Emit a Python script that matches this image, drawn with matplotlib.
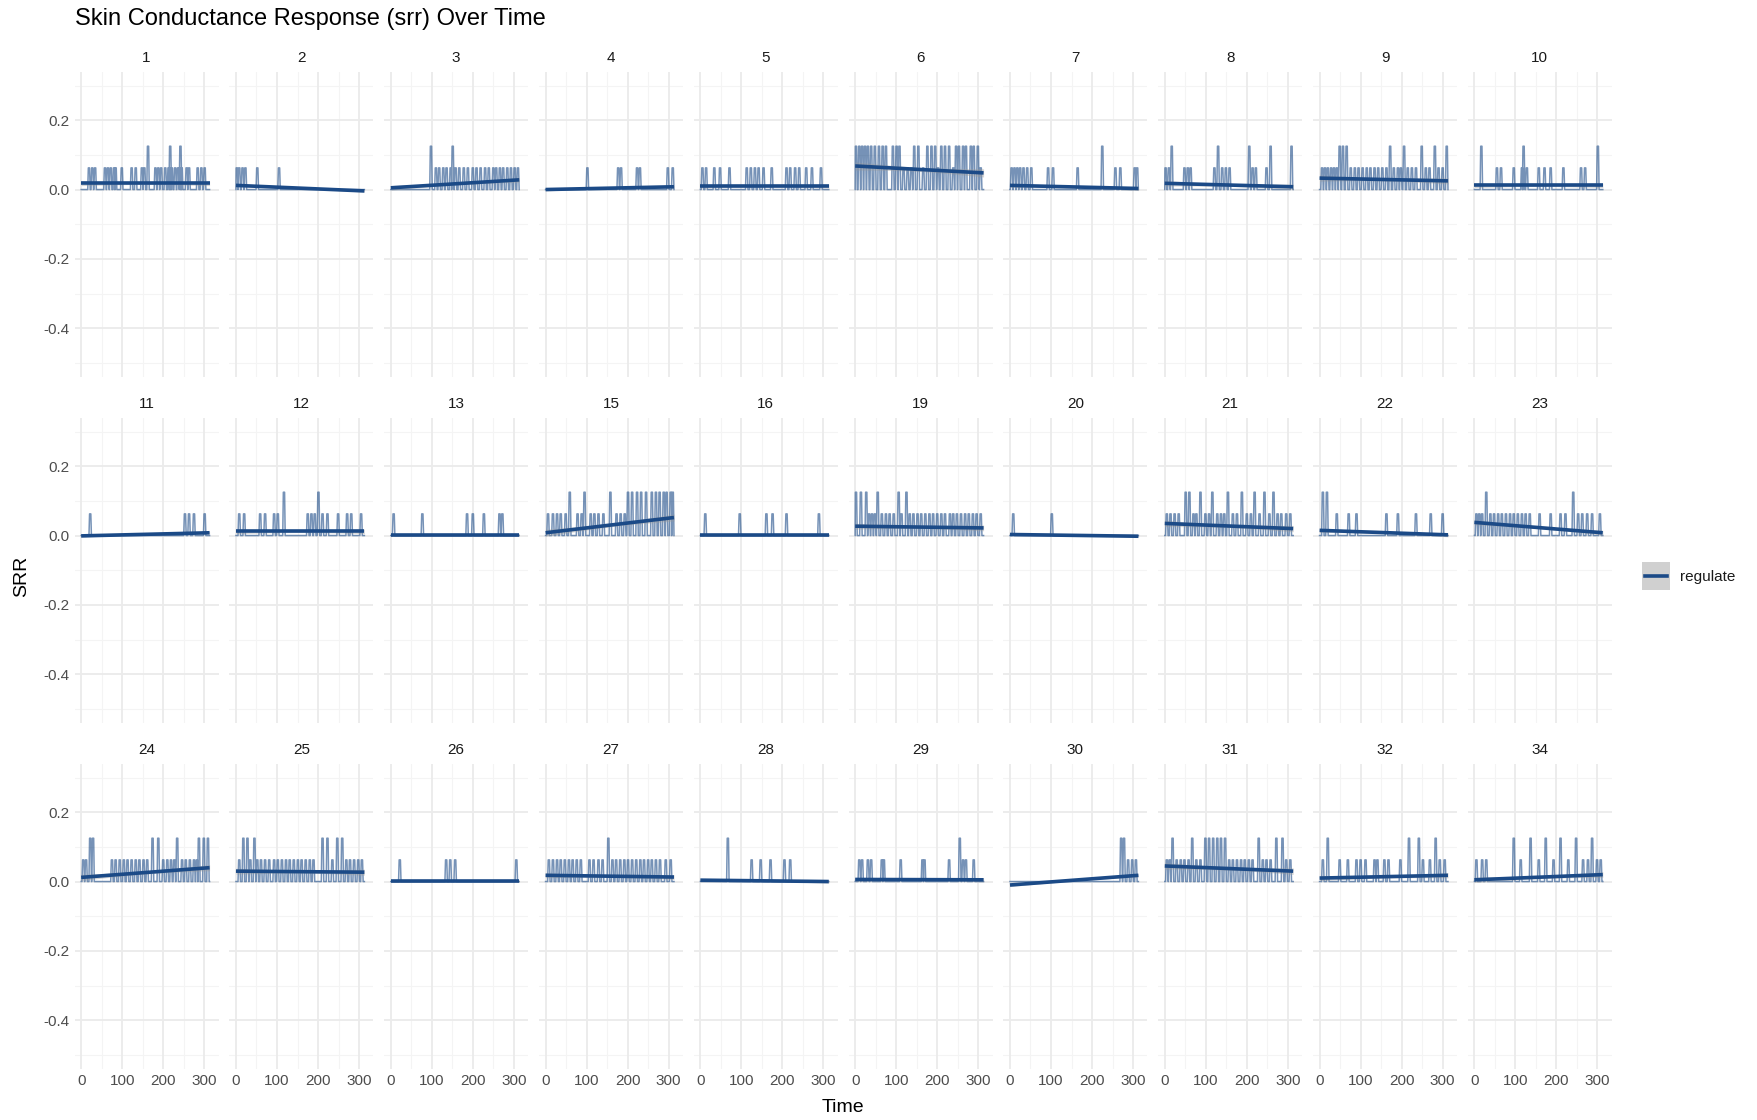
import numpy as np
import matplotlib
matplotlib.use("Agg")
import matplotlib.pyplot as plt
from matplotlib.patches import Rectangle
from matplotlib.lines import Line2D

plt.rcParams['font.family'] = ['Liberation Sans', 'DejaVu Sans']

# subject ids shown in the facets (row-major, 10 per row)
subjects = [1, 2, 3, 4, 5, 6, 7, 8, 9, 10,
            11, 12, 13, 15, 16, 19, 20, 21, 22, 23,
            24, 25, 26, 27, 28, 29, 30, 31, 32, 34]

# times (s) of small (~0.0625) and large (~0.125) srr peaks
spikes_lo = {
    1: [19, 27, 34, 58, 65, 72, 80, 84, 99, 123, 133, 148, 154, 181, 188, 195, 205, 213, 221, 229, 236, 245, 257, 263, 284, 293, 301],
    2: [2, 8, 16, 23, 52, 105],
    3: [110, 118, 128, 136, 146, 158, 167, 178, 188, 200, 209, 219, 230, 239, 250, 257, 266, 274, 284, 293, 302, 310],
    4: [102, 177, 184, 223, 230, 298, 310],
    5: [5, 14, 34, 48, 71, 113, 123, 133, 142, 154, 174, 210, 219, 231, 241, 258, 272, 294],
    6: [118, 128, 137, 166, 202, 239, 306],
    7: [4, 11, 18, 25, 33, 42, 52, 93, 105, 165, 257, 269, 304, 310],
    8: [2, 10, 48, 56, 63, 121, 140, 149, 158, 214, 222, 248],
    9: [6, 13, 20, 28, 35, 42, 76, 86, 95, 105, 115, 124, 134, 143, 153, 163, 181, 191, 198, 215, 225, 235, 259, 268, 290, 300],
    10: [55, 65, 96, 116, 128, 157, 171, 186, 217, 260, 270],
    11: [22, 253, 263, 275, 301],
    12: [8, 20, 59, 71, 93, 102, 175, 184, 192, 211, 223, 249, 271, 281, 305],
    13: [7, 77, 186, 200, 227, 265, 272],
    15: [6, 18, 28, 37, 49, 78, 88, 110, 119, 129, 141, 173, 183, 193],
    16: [12, 96, 161, 176, 210, 289],
    19: [34, 41, 48, 65, 75, 84, 94, 113, 133, 142, 152, 161, 171, 181, 190, 200, 210, 219, 231, 239, 248, 258, 268, 277, 287, 296, 306],
    20: [8, 102],
    21: [5, 14, 24, 34, 70, 77, 99, 108, 128, 137, 145, 166, 176, 200, 210, 231, 255, 275, 284, 296, 306],
    22: [42, 71, 90, 163, 191, 235, 271, 300],
    23: [5, 12, 19, 39, 48, 58, 67, 77, 87, 96, 106, 116, 125, 135, 159, 186, 210, 222, 253, 263, 275, 287, 306],
    24: [5, 12, 75, 84, 94, 104, 113, 123, 133, 142, 152, 161, 200, 210, 219, 227, 246, 255, 265, 275, 282],
    25: [8, 35, 52, 61, 71, 81, 93, 102, 112, 122, 131, 141, 151, 160, 170, 180, 189, 235, 269, 278, 288, 298, 307],
    26: [22, 135, 145, 157, 306],
    27: [8, 18, 28, 37, 47, 57, 66, 76, 86, 107, 117, 129, 139, 163, 172, 182, 192, 201, 211, 221, 231, 240, 250, 259, 269, 279, 293, 305],
    28: [125, 147, 171, 205, 219],
    29: [10, 17, 31, 39, 65, 70, 111, 164, 169, 229, 263, 270, 289],
    30: [288, 298, 307],
    31: [5, 12, 29, 39, 48, 58, 77, 87, 157, 166, 176, 186, 195, 205, 214, 239, 248, 258, 296, 306],
    32: [8, 49, 69, 90, 100, 112, 134, 141, 158, 168, 197, 252, 269, 293, 305],
    34: [5, 19, 29, 113, 157, 193, 229, 265, 277, 299, 308],
}
spikes_hi = {
    1: [163, 217, 242],
    3: [98, 151],
    6: [2, 10, 17, 24, 31, 39, 48, 58, 67, 75, 92, 101, 108, 144, 154, 176, 186, 195, 210, 219, 229, 246, 253, 263, 270, 282, 289, 299],
    7: [225],
    8: [17, 130, 206, 258, 309],
    9: [49, 57, 66, 172, 206, 249, 281, 310],
    10: [17, 120, 301],
    12: [117, 201],
    15: [59, 95, 158, 201, 211, 223, 233, 245, 259, 269, 278, 288, 295, 305, 310],
    19: [2, 14, 27, 55, 106, 125],
    21: [51, 60, 87, 116, 154, 188, 219, 243, 265],
    22: [8, 18],
    23: [29, 241],
    24: [22, 29, 174, 188, 234, 287, 299, 309],
    25: [18, 28, 45, 211, 223, 247, 259],
    27: [153],
    28: [67],
    29: [255],
    30: [271, 278],
    31: [19, 67, 99, 108, 118, 128, 137, 147, 229, 272, 287],
    32: [20, 218, 242, 283],
    34: [96, 137, 174, 210, 248, 287],
}
level_lo = 0.0625
level_hi = 0.125
t_end = 313

# linear trend (value at t=0 and at t_end)
fit_start = [0.018, 0.012, 0.005, 0.000, 0.010, 0.068, 0.012, 0.018, 0.033, 0.012,
             -0.001, 0.012, 0.002, 0.008, 0.002, 0.027, 0.003, 0.035, 0.015, 0.038,
             0.012, 0.030, 0.001, 0.018, 0.004, 0.006, -0.010, 0.045, 0.010, 0.005]
fit_end = [0.018, -0.004, 0.028, 0.008, 0.010, 0.048, 0.003, 0.008, 0.025, 0.012,
           0.008, 0.012, 0.002, 0.052, 0.002, 0.022, -0.002, 0.020, 0.002, 0.008,
           0.040, 0.027, 0.001, 0.013, 0.000, 0.005, 0.018, 0.030, 0.018, 0.020]

x_major = [0, 100, 200, 300]
x_minor = [50, 150, 250]
y_major = [-0.4, -0.2, 0.0, 0.2]
y_minor = [-0.5, -0.3, -0.1, 0.1, 0.3]

raw_color = "#1b4a87"
fit_color = "#1b4a87"
grid_major = "#ebebeb"
grid_minor = "#f4f4f4"
tick_color = "#4d4d4d"


def build_series(lo, hi):
    ev = sorted([(t, level_lo) for t in lo] + [(t, level_hi) for t in hi])
    xs, ys = [0.0], [0.0]
    for t, h in ev:
        xs += [t - 3, t - 1.5, t + 1.5, t + 3]
        ys += [0, h, h, 0]
    xs.append(t_end)
    ys.append(0.0)
    xs = np.clip(np.array(xs, float), 0, t_end)
    return xs, np.array(ys)


W, H = 1758, 1120
fig = plt.figure(figsize=(W / 100, H / 100), dpi=100)

pan_w, pan_h = 144, 305
pan_left0, pan_pitch = 74.6, 154.8
row_tops = [71.7, 417.7, 763.7]

for i, sid in enumerate(subjects):
    r, c = divmod(i, 10)
    left = pan_left0 + c * pan_pitch
    top = row_tops[r]
    ax = fig.add_axes([left / W, 1 - (top + pan_h) / H, pan_w / W, pan_h / H])
    ax.set_xlim(-16, 335)
    ax.set_ylim(-0.54, 0.34)
    for s in ax.spines.values():
        s.set_visible(False)
    for v in x_minor:
        ax.axvline(v, color=grid_minor, lw=0.8, zorder=0)
    for v in y_minor:
        ax.axhline(v, color=grid_minor, lw=0.8, zorder=0)
    for v in x_major:
        ax.axvline(v, color=grid_major, lw=1.3, zorder=0)
    for v in y_major:
        ax.axhline(v, color=grid_major, lw=1.3, zorder=0)

    xs, ys = build_series(spikes_lo.get(sid, []), spikes_hi.get(sid, []))
    ax.plot(xs, ys, color=raw_color, alpha=0.6, lw=1.1, zorder=2)

    # trend with a 95% band from the residuals on a 1 s grid
    a, b = fit_start[i], fit_end[i]
    tg = np.arange(0, t_end + 1)
    order = np.argsort(xs, kind="stable")
    yg = np.interp(tg, xs[order], ys[order])
    fit = a + (b - a) * tg / t_end
    s = np.sqrt(np.sum((yg - fit) ** 2) / (len(tg) - 2))
    se = s * np.sqrt(1 / len(tg) + (tg - tg.mean()) ** 2 / np.sum((tg - tg.mean()) ** 2))
    ax.fill_between(tg, fit - 1.97 * se, fit + 1.97 * se, color="#999999", alpha=0.4, lw=0, zorder=3)
    ax.plot(tg, fit, color=fit_color, lw=2.6, zorder=4, solid_capstyle="butt")

    ax.set_xticks(x_major)
    ax.set_yticks(y_major)
    ax.tick_params(length=0, colors=tick_color, labelsize=11, pad=4)
    if r == 2:
        ax.set_xticklabels([str(v) for v in x_major])
    else:
        ax.set_xticklabels([])
    if c == 0:
        ax.set_yticklabels([f"{v:.1f}" for v in y_major])
    else:
        ax.set_yticklabels([])
    ax.text(0.5, 1 + 14 / pan_h, str(sid), transform=ax.transAxes,
            ha="center", va="center", fontsize=11, color="#1a1a1a")

fig.text(75 / W, 1 - 19 / H, "Skin Conductance Response (srr) Over Time",
         ha="left", va="center", fontsize=17, color="black")
fig.text(843 / W, 1 - 1107 / H, "Time", ha="center", va="center", fontsize=14)
fig.text(22 / W, 1 - 576 / H, "SRR", ha="center", va="center", fontsize=14, rotation=90)

# legend
fig.patches.append(Rectangle((1642 / W, 1 - 590 / H), 28 / W, 28 / H,
                             transform=fig.transFigure, facecolor="#d0d0d0",
                             edgecolor="none"))
fig.lines.append(Line2D([1645 / W, 1667 / W], [1 - 576 / H, 1 - 576 / H],
                        transform=fig.transFigure, color=fit_color, lw=2.6))
fig.text(1680 / W, 1 - 577 / H, "regulate", ha="left", va="center", fontsize=11, color="#1a1a1a")

fig.savefig("out.png", dpi=100, facecolor="white")
